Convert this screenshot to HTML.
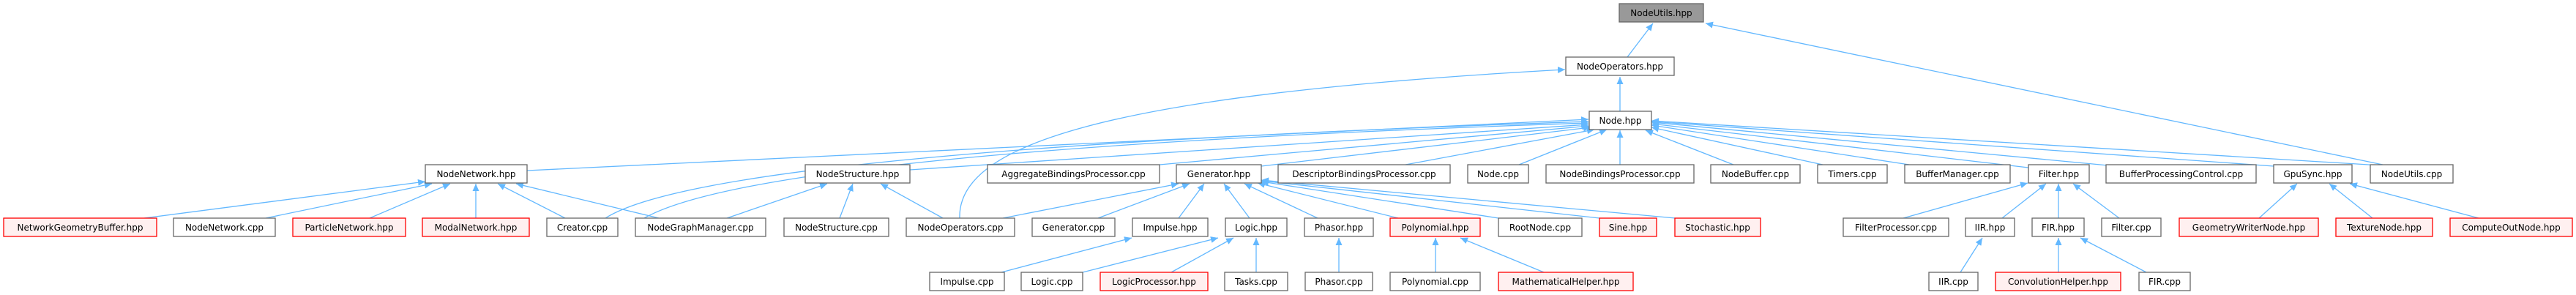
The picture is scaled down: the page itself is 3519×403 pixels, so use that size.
<!DOCTYPE html>
<html><head><meta charset="utf-8"><style>
html,body{margin:0;padding:0;background:#fff;}
svg{display:block;}
text{font-family:"DejaVu Sans","Liberation Sans",sans-serif;font-size:12px;fill:#000;}
.n{fill:#fff;stroke:#666;stroke-width:1.3;}
.r{fill:#fff0f0;stroke:#ff0000;stroke-width:1.3;}
.g{fill:#999;stroke:#666;stroke-width:1.3;}
.e{fill:none;stroke:#63b8ff;stroke-width:1.3;}
</style></head><body>
<svg width="3519" height="403" viewBox="0 0 3519 403" xmlns="http://www.w3.org/2000/svg">
<defs><marker id="a" markerWidth="11" markerHeight="10" refX="10" refY="4.5" orient="auto" markerUnits="userSpaceOnUse"><path d="M0,0 L10,4.5 L0,9 z" fill="#63b8ff"/></marker></defs>
<g class="e" marker-end="url(#a)">
<path d="M2223,78 L2258,32"/>
<path d="M3255,225 L2330,32"/>
<path d="M2213,152 L2213,105"/>
<path d="M1311,298 C1308,200 1500,130 2138,95"/>
<path d="M720,233 L2170,163"/>
<path d="M827,298 C950,220 1600,185 2170,166"/>
<path d="M880,298 C1000,230 1500,190 2170,168"/>
<path d="M1243,232 L2170,170"/>
<path d="M1584,225 L2171,172"/>
<path d="M1723,227 L2173,174"/>
<path d="M1920,225 L2178,177"/>
<path d="M2075,225 L2195,177"/>
<path d="M2213,225 L2213,178"/>
<path d="M2368,225 L2248,178"/>
<path d="M2490,225 L2256,174"/>
<path d="M2608,225 L2256,171"/>
<path d="M2771,229 L2256,169"/>
<path d="M2880,226 L2256,167"/>
<path d="M3106,227 L2256,166"/>
<path d="M3252,226 L2256,165"/>
<path d="M1370,298 L1610,251"/>
<path d="M1500,298 L1625,251"/>
<path d="M1610,298 L1645,251"/>
<path d="M1707,298 L1672,251"/>
<path d="M1800,298 L1700,251"/>
<path d="M1910,298 L1718,250"/>
<path d="M2047,298 L1723,248"/>
<path d="M2185,298 L1723,247"/>
<path d="M2288,298 L1723,246"/>
<path d="M197,298 L581,248"/>
<path d="M363,298 L590,251"/>
<path d="M505,298 L615,251"/>
<path d="M650,298 L650,251"/>
<path d="M772,298 L680,251"/>
<path d="M900,298 L705,251"/>
<path d="M993,298 L1130,251"/>
<path d="M1147,298 L1165,251"/>
<path d="M1288,298 L1203,251"/>
<path d="M2600,298 L2770,250"/>
<path d="M2735,298 L2795,251"/>
<path d="M2812,298 L2812,251"/>
<path d="M2895,298 L2832,251"/>
<path d="M3086,298 L3138,251"/>
<path d="M3241,298 L3182,251"/>
<path d="M3386,298 L3210,251"/>
<path d="M1368,372 L1546,325"/>
<path d="M1479,372 L1664,325"/>
<path d="M1600,372 L1685,325"/>
<path d="M1716,372 L1716,325"/>
<path d="M1829,372 L1829,325"/>
<path d="M1961,372 L1961,325"/>
<path d="M2109,372 L1995,325"/>
<path d="M2678,372 L2708,325"/>
<path d="M2812,372 L2812,325"/>
<path d="M2932,372 L2842,325"/>
</g>
<g text-anchor="middle">
<rect class="g" x="2212" y="5" width="115" height="25"/><text x="2269.5" y="22">NodeUtils.hpp</text>
<rect class="n" x="2139" y="78" width="148" height="25"/><text x="2213" y="95">NodeOperators.hpp</text>
<rect class="n" x="2171" y="152" width="85" height="25"/><text x="2213.5" y="169">Node.hpp</text>

<rect class="n" x="581" y="225" width="139" height="25"/><text x="650.5" y="242">NodeNetwork.hpp</text>
<rect class="n" x="1100" y="225" width="143" height="25"/><text x="1171.5" y="242">NodeStructure.hpp</text>
<rect class="n" x="1349" y="225" width="235" height="25"/><text x="1466.5" y="242">AggregateBindingsProcessor.cpp</text>
<rect class="n" x="1607" y="225" width="116" height="25"/><text x="1665" y="242">Generator.hpp</text>
<rect class="n" x="1746" y="225" width="235" height="25"/><text x="1863.5" y="242">DescriptorBindingsProcessor.cpp</text>
<rect class="n" x="2005" y="225" width="83" height="25"/><text x="2046.5" y="242">Node.cpp</text>
<rect class="n" x="2112" y="225" width="202" height="25"/><text x="2213" y="242">NodeBindingsProcessor.cpp</text>
<rect class="n" x="2337" y="225" width="122" height="25"/><text x="2398" y="242">NodeBuffer.cpp</text>
<rect class="n" x="2483" y="225" width="95" height="25"/><text x="2530.5" y="242">Timers.cpp</text>
<rect class="n" x="2602" y="225" width="144" height="25"/><text x="2674" y="242">BufferManager.cpp</text>
<rect class="n" x="2771" y="225" width="83" height="25"/><text x="2812.5" y="242">Filter.hpp</text>
<rect class="n" x="2877" y="225" width="205" height="25"/><text x="2979.5" y="242">BufferProcessingControl.cpp</text>
<rect class="n" x="3106" y="225" width="107" height="25"/><text x="3159.5" y="242">GpuSync.hpp</text>
<rect class="n" x="3238" y="225" width="113" height="25"/><text x="3294.5" y="242">NodeUtils.cpp</text>

<rect class="r" x="5" y="298" width="209" height="25"/><text x="109.5" y="315">NetworkGeometryBuffer.hpp</text>
<rect class="n" x="237" y="298" width="139" height="25"/><text x="306.5" y="315">NodeNetwork.cpp</text>
<rect class="r" x="400" y="298" width="154" height="25"/><text x="477" y="315">ParticleNetwork.hpp</text>
<rect class="r" x="577" y="298" width="146" height="25"/><text x="650" y="315">ModalNetwork.hpp</text>
<rect class="n" x="747" y="298" width="97" height="25"/><text x="795.5" y="315">Creator.cpp</text>
<rect class="n" x="868" y="298" width="178" height="25"/><text x="957" y="315">NodeGraphManager.cpp</text>
<rect class="n" x="1071" y="298" width="143" height="25"/><text x="1142.5" y="315">NodeStructure.cpp</text>
<rect class="n" x="1238" y="298" width="148" height="25"/><text x="1312" y="315">NodeOperators.cpp</text>
<rect class="n" x="1410" y="298" width="113" height="25"/><text x="1466.5" y="315">Generator.cpp</text>
<rect class="n" x="1547" y="298" width="103" height="25"/><text x="1598.5" y="315">Impulse.hpp</text>
<rect class="n" x="1674" y="298" width="84" height="25"/><text x="1716" y="315">Logic.hpp</text>
<rect class="n" x="1782" y="298" width="94" height="25"/><text x="1829" y="315">Phasor.hpp</text>
<rect class="r" x="1899" y="298" width="123" height="25"/><text x="1960.5" y="315">Polynomial.hpp</text>
<rect class="n" x="2047" y="298" width="114" height="25"/><text x="2104" y="315">RootNode.cpp</text>
<rect class="r" x="2185" y="298" width="78" height="25"/><text x="2224" y="315">Sine.hpp</text>
<rect class="r" x="2288" y="298" width="117" height="25"/><text x="2346.5" y="315">Stochastic.hpp</text>
<rect class="n" x="2518" y="298" width="144" height="25"/><text x="2590" y="315">FilterProcessor.cpp</text>
<rect class="n" x="2685" y="298" width="67" height="25"/><text x="2718.5" y="315">IIR.hpp</text>
<rect class="n" x="2776" y="298" width="71" height="25"/><text x="2811.5" y="315">FIR.hpp</text>
<rect class="n" x="2871" y="298" width="81" height="25"/><text x="2911.5" y="315">Filter.cpp</text>
<rect class="r" x="2977" y="298" width="190" height="25"/><text x="3072" y="315">GeometryWriterNode.hpp</text>
<rect class="r" x="3191" y="298" width="132" height="25"/><text x="3257" y="315">TextureNode.hpp</text>
<rect class="r" x="3347" y="298" width="167" height="25"/><text x="3430.5" y="315">ComputeOutNode.hpp</text>

<rect class="n" x="1270" y="372" width="102" height="25"/><text x="1321" y="389">Impulse.cpp</text>
<rect class="n" x="1395" y="372" width="84" height="25"/><text x="1437" y="389">Logic.cpp</text>
<rect class="r" x="1503" y="372" width="147" height="25"/><text x="1576.5" y="389">LogicProcessor.hpp</text>
<rect class="n" x="1673" y="372" width="86" height="25"/><text x="1716" y="389">Tasks.cpp</text>
<rect class="n" x="1783" y="372" width="92" height="25"/><text x="1829" y="389">Phasor.cpp</text>
<rect class="n" x="1899" y="372" width="123" height="25"/><text x="1960.5" y="389">Polynomial.cpp</text>
<rect class="r" x="2047" y="372" width="184" height="25"/><text x="2139" y="389">MathematicalHelper.hpp</text>
<rect class="n" x="2635" y="372" width="67" height="25"/><text x="2668.5" y="389">IIR.cpp</text>
<rect class="r" x="2726" y="372" width="171" height="25"/><text x="2811.5" y="389">ConvolutionHelper.hpp</text>
<rect class="n" x="2922" y="372" width="70" height="25"/><text x="2957" y="389">FIR.cpp</text>
</g>
</svg>
</body></html>
